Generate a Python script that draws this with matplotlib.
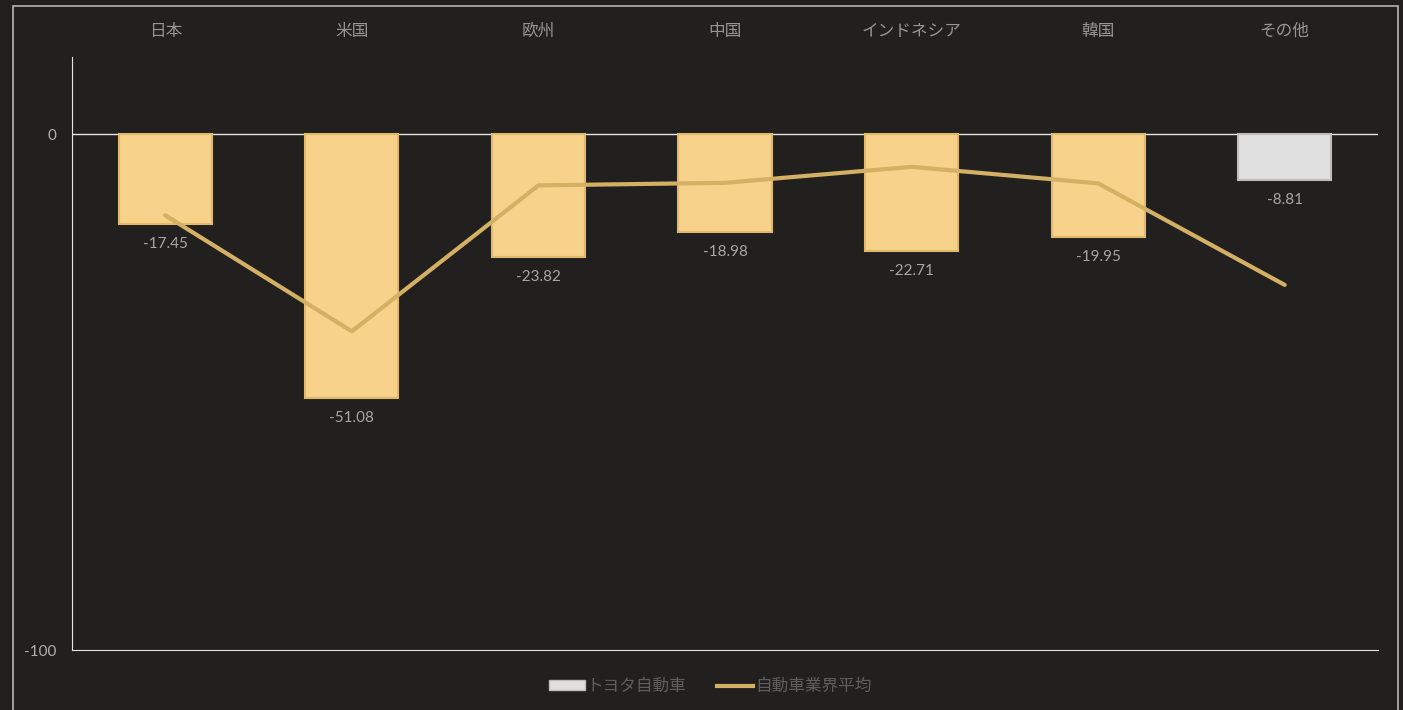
import matplotlib.pyplot as plt
from matplotlib.patches import Rectangle, Patch
from matplotlib.lines import Line2D

plt.rcParams['font.family'] = ['Lato', 'Noto Sans CJK JP', 'DejaVu Sans']

regions = ['日本', '米国', '欧州', '中国', 'インドネシア', '韓国', 'その他']
toyota = [-17.45, -51.08, -23.82, -18.98, -22.71, -19.95, -8.81]
industry_avg = [-15.7, -38.2, -9.9, -9.4, -6.3, -9.5, -29.2]

BG = '#21201e'
BAR = '#f6d28a'
BAR_EDGE = '#e2b96c'
OTHER = '#e0e0e0'
OTHER_EDGE = '#bdbdbd'
LINE = '#d4b064'

fig = plt.figure(figsize=(14.03, 7.10), dpi=100, facecolor=BG)
W, H = 1403, 710
ax = fig.add_axes([72 / W, (H - 650) / H, (1378 - 72) / W, (650 - 57) / H])
ax.set_facecolor(BG)

x = list(range(len(regions)))
face = [BAR] * (len(regions) - 1) + [OTHER]
edge = [BAR_EDGE] * (len(regions) - 1) + [OTHER_EDGE]
ax.bar(x, toyota, width=0.5, color=face, edgecolor=edge, linewidth=1.5, zorder=2)
ax.plot(x, industry_avg, color=LINE, linewidth=3, solid_capstyle='round', zorder=3)
ax.axhline(0, color='#e6e6e6', linewidth=1, zorder=1)

for xi, v in zip(x, toyota):
    ax.annotate(f'{v:.2f}', (xi, v), xytext=(0, -20), textcoords='offset pixels',
                ha='center', va='center', color='#a6a6a6', fontsize=11)

ax.set_xlim(-0.5, len(regions) - 0.5)
ax.set_ylim(-100, 15)
ax.set_yticks([0, -100])
ax.set_yticklabels(['0', '-100'])
ax.xaxis.tick_top()
ax.set_xticks(x)
ax.set_xticklabels(regions)
ax.tick_params(axis='x', length=0, pad=13, colors='#959595', labelsize=12)
ax.tick_params(axis='y', length=0, pad=11, colors='#b0b0b0', labelsize=11)
for s in ['top', 'right']:
    ax.spines[s].set_visible(False)
ax.spines['left'].set_color('#e6e6e6')
ax.spines['bottom'].set_color('#e6e6e6')
ax.spines['bottom'].set_position(('data', -100))

fig.patches.append(Rectangle((13 / W, -0.01), (1398 - 13) / W, (H - 6) / H + 0.01,
                             transform=fig.transFigure, fill=False,
                             edgecolor='#b5b5b5', linewidth=1.2))

handles = [Patch(facecolor=OTHER, edgecolor=OTHER_EDGE, label='トヨタ自動車'),
           Line2D([0], [0], color=LINE, linewidth=3, label='自動車業界平均')]
fig.legend(handles=handles, loc='center', bbox_to_anchor=(710 / W, (H - 686) / H),
           ncol=2, frameon=False, fontsize=12, labelcolor='#5e5e5e',
           handlelength=2.2, handleheight=0.5, handletextpad=0.1, columnspacing=1.8)

fig.savefig('out.png', dpi=100, facecolor=BG)
